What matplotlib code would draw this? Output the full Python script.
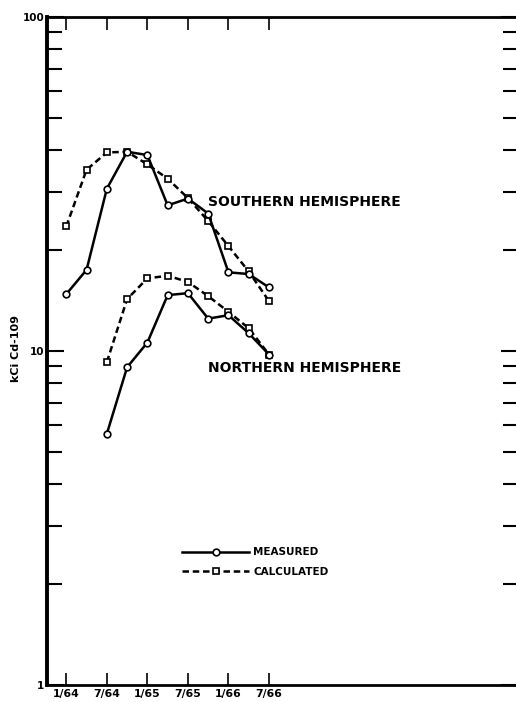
import matplotlib
matplotlib.use("Agg")
import matplotlib.pyplot as plt
from matplotlib.lines import Line2D
from matplotlib.ticker import FixedLocator, NullFormatter, LogLocator

# ---- data (months after Jan 1964) ----
months_south = [0, 3, 6, 9, 12, 15, 18, 21, 24, 27, 30]
south_measured = [14.8, 17.5, 30.6, 39.5, 38.6, 27.3, 28.6, 25.8, 17.2, 17.0, 15.5]
south_calculated = [23.6, 34.9, 39.3, 39.5, 36.2, 32.8, 28.7, 24.5, 20.6, 17.3, 14.1]

months_north = [6, 9, 12, 15, 18, 21, 24, 27, 30]
north_measured = [5.65, 8.94, 10.6, 14.7, 14.9, 12.5, 12.8, 11.3, 9.76]
north_calculated = [9.26, 14.3, 16.5, 16.8, 16.1, 14.6, 13.1, 11.7, 9.76]

tick_months = [0, 6, 12, 18, 24, 30]
tick_labels = ["1/64", "7/64", "1/65", "7/65", "1/66", "7/66"]

W, H = 516, 702
fig = plt.figure(figsize=(W / 100, H / 100), dpi=100)
ax = fig.add_axes([47 / W, (H - 685) / H, (518 - 47) / W, (685 - 17) / H])

plt.rcParams['font.family'] = ['DejaVu Sans']

lw = 1.8
solid_kw = dict(color="black", lw=lw, marker="o", markersize=4.8,
                markerfacecolor="white", markeredgecolor="black", markeredgewidth=1.2)
dash_kw = dict(color="black", lw=lw, ls=(0, (2.6, 1.5)), marker="s", markersize=4.8,
               markerfacecolor="white", markeredgecolor="black", markeredgewidth=1.2)

ax.plot(months_south, south_calculated, **dash_kw, zorder=3)
ax.plot(months_south, south_measured, **solid_kw, zorder=4)
ax.plot(months_north, north_calculated, **dash_kw, zorder=3)
ax.plot(months_north, north_measured, **solid_kw, zorder=4)

ax.set_yscale("log")
ax.set_ylim(1, 100)
px_per_month = (269 - 66.3) / 30
ax.set_xlim((47 - 66.3) / px_per_month, (518 - 66.3) / px_per_month)

ax.set_xticks(tick_months)
ax.set_xticklabels(tick_labels, fontsize=7.8, fontweight="bold")
ax.yaxis.set_major_locator(FixedLocator([1, 10, 100]))
ax.set_yticklabels(["1", "10", "100"], fontsize=7.5, fontweight="bold")
ax.yaxis.set_minor_locator(LogLocator(base=10, subs=range(2, 10)))
ax.yaxis.set_minor_formatter(NullFormatter())

ax.tick_params(axis="x", which="both", direction="in", top=True, bottom=True,
               length=9, width=1.2, pad=3)
ax.tick_params(axis="y", which="major", direction="in", left=True, right=True,
               length=12, width=1.5, pad=2)
ax.tick_params(axis="y", which="minor", direction="in", left=True, right=True,
               length=11, width=1.5)

ax.spines["left"].set_linewidth(2.8)
ax.spines["top"].set_linewidth(2.0)
ax.spines["bottom"].set_linewidth(2.0)
ax.spines["right"].set_visible(False)

ax.set_ylabel("kCi Cd-109", fontsize=8, fontweight="bold")
ax.yaxis.set_label_coords((21 - 47) / (518 - 47), (685 - 349) / (685 - 17))

ax.text(21, 28.0, "SOUTHERN HEMISPHERE", fontsize=10, fontweight="bold", va="center")
ax.text(21, 8.9, "NORTHERN HEMISPHERE", fontsize=10, fontweight="bold", va="center")

handles = [Line2D([], [], **solid_kw), Line2D([], [], **dash_kw)]
leg = ax.legend(handles, ["MEASURED", "CALCULATED"], loc="upper left",
                bbox_to_anchor=((173 - 47) / (518 - 47), (685 - 538) / (685 - 17)),
                frameon=False, handlelength=6.4, handletextpad=0.4,
                labelspacing=0.9, numpoints=1,
                prop=dict(size=7.5, weight="bold"))

fig.savefig("out.png", dpi=100)
